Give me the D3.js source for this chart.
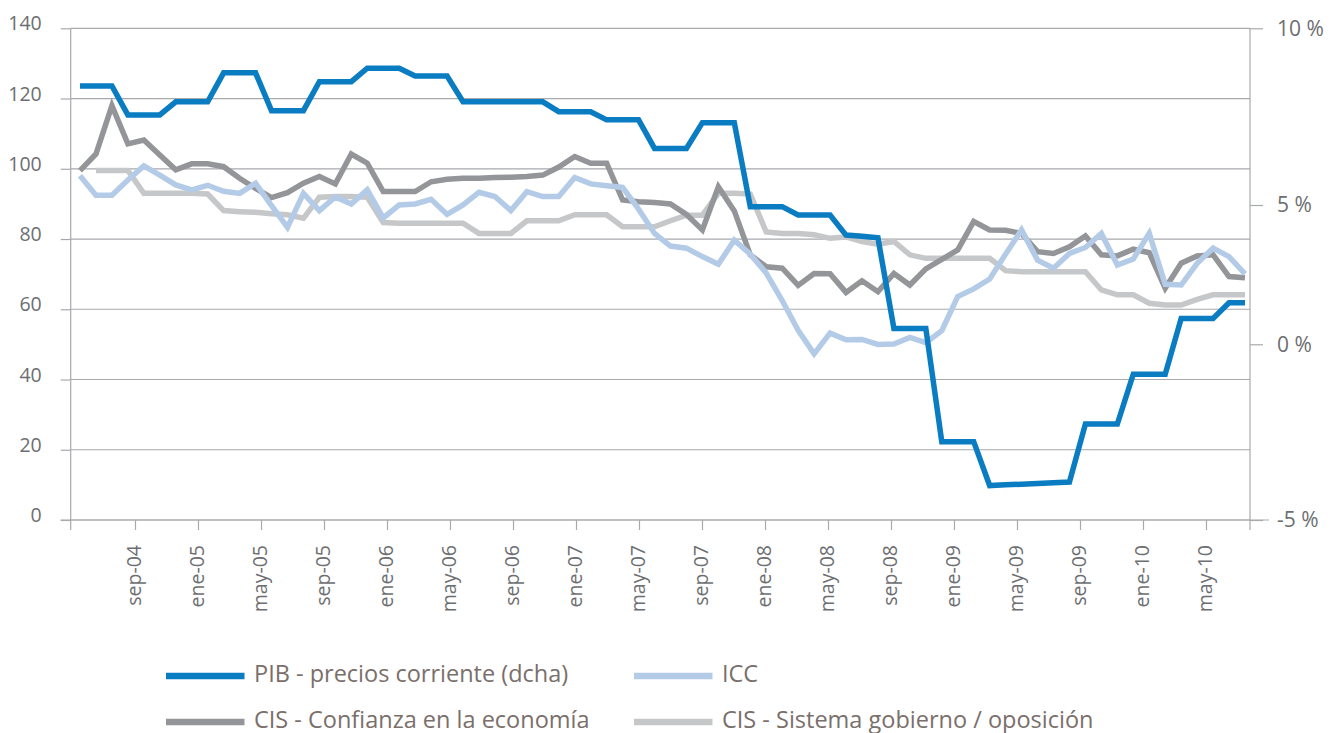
<!DOCTYPE html>
<html>
<head>
<meta charset="utf-8">
<script src="https://cdn.jsdelivr.net/npm/d3@7"></script>
<style>
  html, body { margin: 0; padding: 0; background: #ffffff; }
  svg { display: block; }
  text { font-family: "Open Sans", "Noto Sans", sans-serif; }
</style>
</head>
<body>
<svg id="chart" width="1335" height="733"></svg>
<script>
// ---- data -------------------------------------------------------------
const tickLabels = ["sep-04", "ene-05", "may-05", "sep-05", "ene-06", "may-06",
  "sep-06", "ene-07", "may-07", "sep-07", "ene-08", "may-08", "sep-08", "ene-09",
  "may-09", "sep-09", "ene-10", "may-10"];
const leftTicks = [0, 20, 40, 60, 80, 100, 120, 140];
const rightTicks = [-5, 0, 5, 10];

const seriesNames = ["PIB - precios corriente (dcha)", "ICC",
  "CIS - Confianza en la economía", "CIS - Sistema gobierno / oposición"];

// PIB nominal, % interanual (eje derecho)
const pib = [8.37, 8.37, 8.37, 7.55, 7.55, 7.55, 7.92, 7.92, 7.92, 8.74, 8.74, 8.74,
  7.67, 7.67, 7.67, 8.49, 8.49, 8.49, 8.87, 8.87, 8.87, 8.65, 8.65, 8.65,
  7.92, 7.92, 7.92, 7.92, 7.92, 7.92, 7.64, 7.64, 7.64, 7.41, 7.41, 7.41,
  6.60, 6.60, 6.60, 7.33, 7.33, 7.33, 4.94, 4.94, 4.94, 4.64, 4.64, 4.64,
  3.92, 3.88, 3.82, 0.57, 0.57, 0.57, -2.77, -2.77, -2.77,
  -4.02, -4.00, -3.98, -3.96, -3.94, -3.92, -2.27, -2.27, -2.27,
  -0.85, -0.85, -0.85, 0.93, 0.93, 0.93, 1.49, 1.49];

// Índice de Confianza del Consumidor
const icc = [98.0, 92.5, 92.5, 96.8, 100.8, 98.2, 95.4, 94.0, 95.3, 93.6, 93.0, 95.9,
  89.5, 83.3, 93.0, 88.1, 92.0, 90.0, 94.0, 86.0, 89.7, 90.0, 91.3, 87.0,
  89.7, 93.3, 92.1, 88.1, 93.5, 92.1, 92.1, 97.5, 95.7, 95.2, 94.7, 88.5,
  81.6, 78.0, 77.4, 75.0, 72.8, 79.7, 75.7, 70.3, 62.5, 54.0, 47.3, 53.2,
  51.3, 51.4, 50.0, 50.1, 52.0, 50.5, 53.9, 63.6, 65.8, 68.6, 75.7, 82.6,
  74.0, 71.7, 75.9, 77.6, 81.6, 72.6, 74.3, 81.6, 67.1, 66.9, 73.1, 77.4,
  75.0, 70.1];

// CIS - confianza en la economía
const cisEconomia = [99.5, 104.2, 118.0, 107.1, 108.2, 103.9, 99.7, 101.4, 101.4, 100.6, 97.3, 94.4,
  91.8, 93.2, 95.9, 97.8, 95.7, 104.2, 101.6, 93.5, 93.5, 93.5, 96.3, 97.0,
  97.3, 97.3, 97.5, 97.6, 97.8, 98.2, 100.5, 103.5, 101.6, 101.6, 91.1, 90.6,
  90.4, 90.0, 87.0, 82.6, 94.9, 88.0, 75.5, 72.1, 71.7, 66.8, 70.2, 70.1,
  64.8, 68.1, 65.0, 70.2, 66.9, 71.5, 74.2, 76.9, 85.0, 82.6, 82.5, 81.6,
  76.4, 75.9, 77.8, 80.9, 75.5, 75.2, 77.1, 76.1, 66.0, 73.1, 75.2, 75.5,
  69.3, 69.0];

// CIS - sistema gobierno / oposición
const cisSistema = [null, 99.5, 99.5, 99.5, 93.0, 93.0, 93.0, 93.0, 92.8, 88.1, 87.8, 87.6,
  87.2, 86.9, 85.9, 91.9, 92.1, 92.1, 91.9, 84.7, 84.5, 84.5, 84.5, 84.5,
  84.5, 81.6, 81.6, 81.6, 85.2, 85.2, 85.2, 86.9, 86.9, 86.9, 83.5, 83.5,
  83.5, 85.2, 86.8, 86.8, 93.0, 93.0, 92.8, 82.0, 81.6, 81.6, 81.2, 80.2,
  80.6, 79.3, 78.5, 79.3, 75.5, 74.5, 74.5, 74.5, 74.5, 74.5, 71.0, 70.7,
  70.7, 70.7, 70.7, 70.7, 65.5, 64.1, 64.1, 61.7, 61.2, 61.2, 62.8, 64.1,
  64.1, 64.1];

// monthly observations starting May 2004
const firstMonth = new Date(2004, 4, 1);
const monthKeys = d3.timeMonth
  .range(firstMonth, d3.timeMonth.offset(firstMonth, pib.length))
  .map(d3.timeFormat("%Y-%m"));

// ---- layout -----------------------------------------------------------
const svg = d3.select("#chart");
const plotLeft = 70.7, plotRight = 1250, plotTop = 28.3, plotBottom = 520;
const axisColor = "#a7a9ac";
const labelColor = "#6d6e71";
const legendColor = "#7a6f6b";

const yLeft = d3.scaleLinear().domain([0, 140]).range([plotBottom, plotTop]);
const yRight = d3.scaleLinear().domain(rightTicks).range([plotBottom, 344.3, 205, plotTop]);
const xData = d3.scalePoint().domain(monthKeys).range([80, 1245]);
const xTicks = d3.scalePoint().domain(tickLabels).range([135, 1206]);

// horizontal gridlines
svg.append("g").selectAll("line").data(leftTicks).join("line")
  .attr("x1", plotLeft).attr("x2", plotRight)
  .attr("y1", d => yLeft(d)).attr("y2", d => yLeft(d))
  .attr("stroke", axisColor).attr("stroke-width", 1.2);

// extended baseline
svg.append("line")
  .attr("x1", plotLeft - 10).attr("x2", plotRight + 19)
  .attr("y1", yLeft(0)).attr("y2", yLeft(0))
  .attr("stroke", axisColor).attr("stroke-width", 1.2);

// vertical axis lines
[plotLeft, plotRight].forEach(x => {
  svg.append("line")
    .attr("x1", x).attr("x2", x)
    .attr("y1", plotTop).attr("y2", plotBottom + 10)
    .attr("stroke", axisColor).attr("stroke-width", 1.2);
});

function styleAxis(g) {
  g.select(".domain").remove();
  g.selectAll(".tick line").attr("stroke", axisColor).attr("stroke-width", 1.2);
  g.selectAll(".tick text").attr("fill", labelColor);
}

// left axis
svg.append("g")
  .attr("transform", `translate(${plotLeft},0)`)
  .call(d3.axisLeft(yLeft).tickValues(leftTicks).tickSize(10).tickPadding(19))
  .call(styleAxis)
  .call(g => g.selectAll(".tick text")
    .attr("font-size", 19.5).attr("dy", "0.08em")
    .style("font-family", '"Open Sans", sans-serif'));

// right axis
svg.append("g")
  .attr("transform", `translate(${plotRight},0)`)
  .call(d3.axisRight(yRight).tickValues(rightTicks).tickSize(13).tickPadding(14)
    .tickFormat(d => d + " %"))
  .call(styleAxis)
  .call(g => g.selectAll(".tick text")
    .attr("font-size", 21).attr("dy", "0.32em")
    .style("font-family", '"Open Sans", sans-serif'));

// bottom axis with rotated month labels
svg.append("g")
  .attr("transform", `translate(0,${plotBottom})`)
  .call(d3.axisBottom(xTicks).tickSize(10).tickPadding(0))
  .call(styleAxis)
  .call(g => g.selectAll(".tick text")
    .attr("font-size", 19.5)
    .attr("transform", "rotate(-90)")
    .attr("text-anchor", "end")
    .attr("x", -25).attr("y", 0).attr("dy", "0.3em")
    .style("font-family", '"Open Sans", sans-serif'));

// ---- series -----------------------------------------------------------
const series = [
  { name: seriesNames[3], values: cisSistema, color: "#c6c7c9", scale: yLeft },
  { name: seriesNames[2], values: cisEconomia, color: "#939598", scale: yLeft },
  { name: seriesNames[1], values: icc, color: "#b4cbe8", scale: yLeft },
  { name: seriesNames[0], values: pib, color: "#0a7cc2", scale: yRight }
];

series.forEach(s => {
  const line = d3.line()
    .defined(d => d != null)
    .x((d, i) => xData(monthKeys[i]))
    .y(d => s.scale(d));
  svg.append("path")
    .datum(s.values)
    .attr("d", line)
    .attr("fill", "none")
    .attr("stroke", s.color)
    .attr("stroke-width", 5.5)
    .attr("stroke-linejoin", "miter")
    .attr("stroke-miterlimit", 4)
    .attr("stroke-linecap", "butt");
});

// ---- legend -----------------------------------------------------------
const legendItems = [
  { name: seriesNames[0], color: "#0a7cc2", col: 0, row: 0 },
  { name: seriesNames[1], color: "#b4cbe8", col: 1, row: 0 },
  { name: seriesNames[2], color: "#939598", col: 0, row: 1 },
  { name: seriesNames[3], color: "#c6c7c9", col: 1, row: 1 }
];
const legendCols = [166, 634];
const legendRows = [676, 722];

const legend = svg.append("g");
legendItems.forEach(it => {
  const x0 = legendCols[it.col], y0 = legendRows[it.row];
  legend.append("line")
    .attr("x1", x0).attr("x2", x0 + 78.5)
    .attr("y1", y0).attr("y2", y0)
    .attr("stroke", it.color).attr("stroke-width", 6.6);
  legend.append("text")
    .attr("x", x0 + 88).attr("y", y0 + 5.5)
    .attr("font-size", 23.5)
    .attr("fill", legendColor)
    .text(it.name);
});
</script>
</body>
</html>
